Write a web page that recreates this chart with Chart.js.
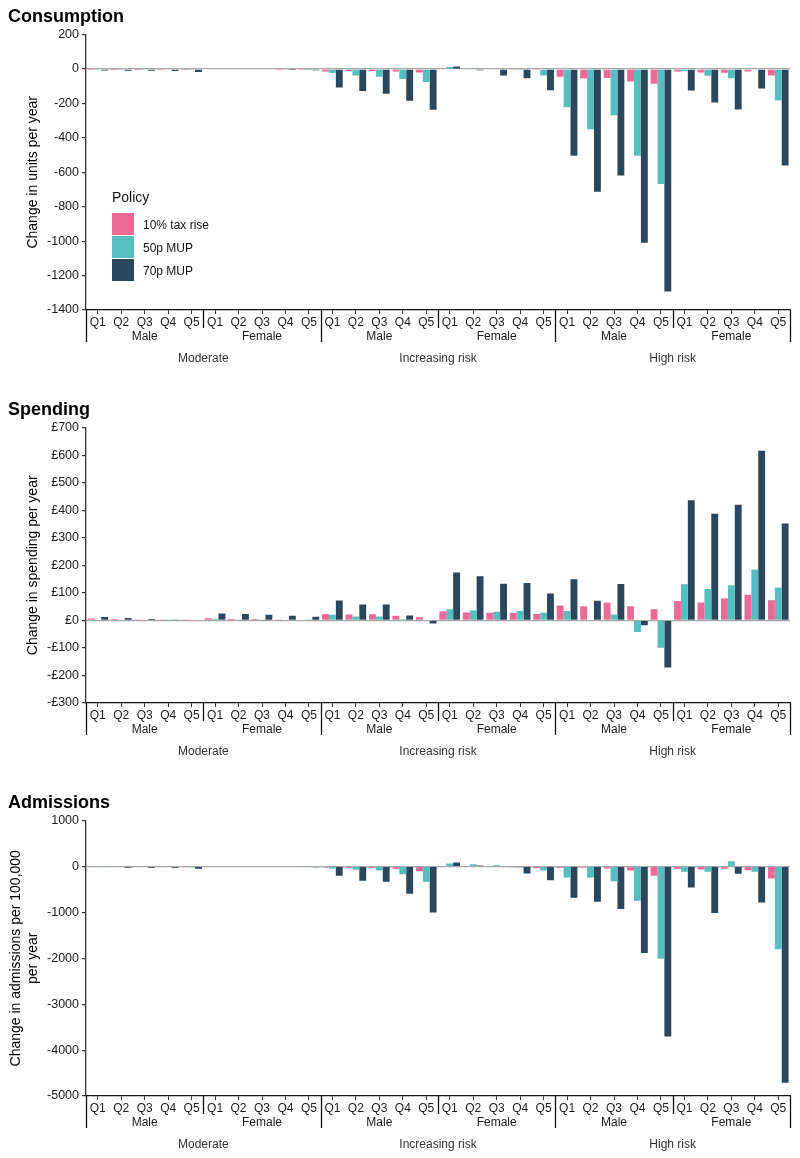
<!DOCTYPE html>
<html>
<head>
<meta charset="utf-8">
<script src="https://cdn.jsdelivr.net/npm/chart.js@4"></script>
<style>
body { margin:0; background:#fff; font-family:"Liberation Sans", Arial, sans-serif; }
.panel { position:relative; width:800px; }
.legend { position:absolute; left:112px; top:186px; font-size:12px; color:#111; }
.legend .ttl { font-size:14px; margin-bottom:5px; height:22px; line-height:22px; }
.legend .row { height:23px; display:flex; align-items:center; }
.legend .box { width:22px; height:22px; margin-right:9px; margin-bottom:1px; }
</style>
</head>
<body>
<div class="panel" style="height:393px">
	<canvas id="c1" width="800" height="393"></canvas>
	<div class="legend" id="legend"></div>
</div>
<div class="panel" style="height:393px"><canvas id="c2" width="800" height="393"></canvas></div>
<div class="panel" style="height:372px"><canvas id="c3" width="800" height="372"></canvas></div>
<script>
// categories
const quintiles = ['Q1','Q2','Q3','Q4','Q5'];
const sexes = ['Male','Female'];
const risks = ['Moderate','Increasing risk','High risk'];
const policies = ['10% tax rise','50p MUP','70p MUP'];
const colours = ['#EE6A96','#56BDC0','#2B475E'];

// Consumption (units per year)
const consTax   = [-1,-1,-1,-1,-2, 0,0,0,-1,-1, -14,-12,-12,-15,-20, 2,0,0,-3,-5, -45,-54,-52,-72,-85, -14,-20,-22,-14,-37];
const consMup50 = [-3,-3,-3,-4,-6, 0,0,0,-3,-2, -23,-37,-45,-58,-75, 12,5,0,-5,-37, -222,-350,-269,-504,-668, -12,-39,-54,3,-183];
const consMup70 = [-8,-10,-10,-12,-17, 0,0,0,-2,-7, -108,-128,-143,-185,-236, 14,-7,-37,-54,-123, -504,-713,-618,-1009,-1293, -125,-195,-235,-113,-560];

// Spending (£ per year)
const spendTax   = [7,5,3,3,1, 8,5,5,3,2, 23,21,22,17,11, 33,29,28,28,23, 54,51,64,51,40, 70,65,79,93,73];
const spendMup50 = [2,2,2,1,0, 5,3,3,2,1, 20,14,14,4,0, 40,36,31,34,28, 34,0,21,-42,-99, 131,114,128,185,119];
const spendMup70 = [12,9,5,1,0, 25,23,20,17,13, 72,58,58,18,-11, 174,160,133,136,98, 149,71,132,-18,-171, 436,387,420,616,352];

// Admissions (per 100,000 per year)
const admTax   = [0,-5,-5,-5,-8, 0,0,0,0,-3, -22,-29,-29,-50,-101, 0,0,0,-14,-36, -29,-22,-43,-87,-203, -50,-65,-50,-80,-261];
const admMup50 = [-5,-10,-10,-10,-15, 0,0,0,0,-5, -43,-72,-87,-167,-333, 65,50,29,-20,-87, -239,-239,-319,-746,-2008, -116,-116,116,-116,-1805];
const admMup70 = [-10,-29,-29,-29,-50, 0,0,0,0,-15, -203,-312,-333,-595,-1000, 87,22,0,-152,-297, -681,-768,-928,-1885,-3705, -457,-1015,-160,-783,-4713];

const labels = [];
const sexLabels = [];
risks.forEach(r => sexes.forEach(s => {
	sexLabels.push(s);
	quintiles.forEach(q => labels.push(q));
}));

const FONT = '"Liberation Sans", Arial, sans-serif';

// group separator lines under the x axis
const separators = {
	id: 'separators',
	afterDraw(chart) {
		const x = chart.scales.x, x2 = chart.scales.x2;
		const n = labels.length;
		const half = (x.getPixelForValue(1) - x.getPixelForValue(0)) / 2;
		const ctx = chart.ctx;
		ctx.save();
		ctx.strokeStyle = '#111';
		ctx.lineWidth = 1.3;
		for (let b = 0; b <= n; b += quintiles.length) {
			const px = b === n ? x.getPixelForValue(n - 1) + half : x.getPixelForValue(b) - half;
			const bottom = (b % (quintiles.length * sexes.length) === 0) ? x2.bottom - 1 : x.bottom - 3;
			ctx.beginPath();
			ctx.moveTo(Math.round(px) + 0.5, x.top);
			ctx.lineTo(Math.round(px) + 0.5, bottom);
			ctx.stroke();
		}
		ctx.restore();
	}
};

function makeChart(id, title, yTitle, min, max, step, fmt, tax, m50, m70, padBottom, titlePad) {
	const series = [tax, m50, m70];
	return new Chart(document.getElementById(id), {
		type: 'bar',
		data: {
			labels: labels,
			datasets: policies.map((p, i) => ({
				label: p,
				data: series[i],
				backgroundColor: colours[i],
				categoryPercentage: 0.88,
				barPercentage: 1.0
			}))
		},
		options: {
			responsive: false,
			animation: false,
			devicePixelRatio: 1,
			layout: { padding: { left: 8, right: 10, top: 0, bottom: padBottom } },
			plugins: {
				legend: { display: false },
				tooltip: { enabled: false },
				title: {
					display: true,
					text: title,
					align: 'start',
					color: '#000',
					font: { family: FONT, size: 18, weight: 'bold', lineHeight: 1.2 },
					padding: { top: 6, bottom: 7 }
				}
			},
			scales: {
				x: {
					type: 'category',
					position: 'bottom',
					weight: 0,
					offset: true,
					grid: { display: true, offset: false, drawOnChartArea: false, drawTicks: true, tickLength: 4, tickColor: '#333' },
					border: { display: true, color: '#111', width: 1.3 },
					ticks: { color: '#1a1a1a', padding: 3, maxRotation: 0, autoSkip: false, font: { family: FONT, size: 12, lineHeight: 1 } },
					afterFit: s => { s.height = 21; }
				},
				x2: {
					type: 'category',
					position: 'bottom',
					weight: 1,
					offset: true,
					labels: sexLabels,
					grid: { display: false, drawTicks: false },
					border: { display: false },
					ticks: { color: '#1a1a1a', padding: 0, maxRotation: 0, autoSkip: false, font: { family: FONT, size: 12, lineHeight: 1 } },
					afterFit: s => { s.height = 12; }
				},
				x3: {
					type: 'category',
					position: 'bottom',
					weight: 2,
					offset: true,
					labels: risks,
					grid: { display: false, drawTicks: false },
					border: { display: false },
					ticks: { color: '#333', padding: 10, maxRotation: 0, autoSkip: false, font: { family: FONT, size: 12, lineHeight: 1 } },
					afterFit: s => { s.height = 26; }
				},
				y: {
					min: min,
					max: max,
					grid: {
						drawOnChartArea: true,
						color: c => c.tick && c.tick.value === 0 ? '#a8a8a8' : 'rgba(0,0,0,0)',
						lineWidth: 1.2,
						tickColor: '#333',
						tickLength: 4
					},
					border: { display: true, color: '#333', width: 1.3 },
					ticks: { stepSize: step, color: '#1a1a1a', padding: 3, callback: fmt, font: { family: FONT, size: 12.5 } },
					title: { display: true, text: yTitle, color: '#000', padding: { top: titlePad, bottom: 4 }, font: { family: FONT, size: 14, lineHeight: 1.2 } },
					afterFit: s => { s.width = 78; }
				}
			}
		},
		plugins: [separators]
	});
}

const plain = v => String(v);
const pounds = v => (v < 0 ? '-£' : '£') + Math.abs(v);

makeChart('c1', 'Consumption', 'Change in units per year', -1400, 200, 200, plain, consTax, consMup50, consMup70, 24, 17);
makeChart('c2', 'Spending', 'Change in spending per year', -300, 700, 100, pounds, spendTax, spendMup50, spendMup70, 24, 17);
makeChart('c3', 'Admissions', ['Change in admissions per 100,000', 'per year'], -5000, 1000, 1000, plain, admTax, admMup50, admMup70, 3, 0);

// legend
const lg = document.getElementById('legend');
let html = '<div class="ttl">Policy</div>';
policies.forEach((p, i) => {
	html += '<div class="row"><div class="box" style="background:' + colours[i] + '"></div>' + p + '</div>';
});
lg.innerHTML = html;
</script>
</body>
</html>
